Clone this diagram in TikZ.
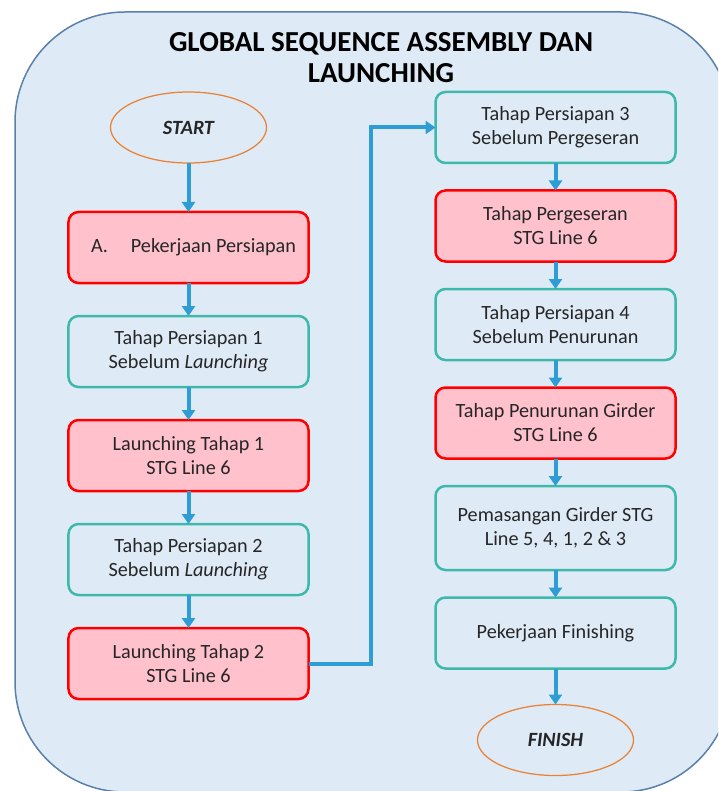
\documentclass[tikz,border=0pt]{standalone}
\usepackage{fontspec}
\setmainfont{Carlito}
\usetikzlibrary{positioning, arrows.meta, shapes.geometric}
\definecolor{bgfill}{HTML}{DEEBF7}
\definecolor{bgline}{HTML}{5A80AC}
\definecolor{tealline}{HTML}{3DB8AA}
\definecolor{redline}{HTML}{FF0000}
\definecolor{pinkfill}{HTML}{FFC1CB}
\definecolor{flowblue}{HTML}{2E9DD6}
\definecolor{ovalline}{HTML}{E98234}

\begin{document}
\begin{tikzpicture}[x=0.2mm, y=-0.2mm,
    every node/.style={font=\fontsize{11.5}{13.6}\selectfont, text=black!85},
    box/.style={rectangle, rounded corners=2mm, draw=tealline, line width=0.5mm, outer sep=0pt,
        minimum width=48mm, minimum height=14.2mm, align=center, inner sep=1mm},
    redbox/.style={box, draw=redline, fill=pinkfill},
    oval/.style={ellipse, draw=ovalline, line width=0.25mm, outer sep=0pt, minimum width=31.2mm,
        minimum height=14.2mm, font=\fontsize{11.5}{13.6}\selectfont\bfseries\itshape},
    flow/.style={draw=flowblue, line width=0.8mm, -{Triangle[length=2mm, width=2.6mm]}}]
\clip (0,0) rectangle (718,791);
\useasboundingbox (0,0) rectangle (718,791);
\draw[fill=bgfill, draw=bgline, line width=0.3mm, rounded corners=22mm] (15,12) rectangle (731,792);
\node[font=\fontsize{16.5}{17.6}\selectfont\bfseries, text=black, align=center] (title) at (381,57.5)
    {GLOBAL SEQUENCE ASSEMBLY DAN\\LAUNCHING};

\node[oval] (s0) at (188.5,127.5) {START};
\node[redbox, below=9.8mm of s0] (l1) {\hspace*{2mm}A.\hspace{4.6mm}Pekerjaan Persiapan};
\node[box, below=6.6mm of l1] (l2) {Tahap Persiapan 1\\Sebelum \textit{Launching}};
\node[redbox, below=6.6mm of l2] (l3) {Launching Tahap 1\\STG Line 6};
\node[box, below=6.6mm of l3] (l4) {Tahap Persiapan 2\\Sebelum \textit{Launching}};
\node[redbox, below=6.6mm of l4] (l5) {Launching Tahap 2\\STG Line 6};

\node[box] (r1) at (555.5,127.5) {Tahap Persiapan 3\\Sebelum Pergeseran};
\node[redbox, below=5.5mm of r1] (r2) {Tahap Pergeseran\\STG Line 6};
\node[box, below=5.5mm of r2] (r3) {Tahap Persiapan 4\\Sebelum Penurunan};
\node[redbox, below=5.5mm of r3] (r4) {Tahap Penurunan Girder\\STG Line 6};
\node[box, minimum height=16.8mm, below=5.5mm of r4] (r5) {Pemasangan Girder STG\\Line 5, 4, 1, 2 \& 3};
\node[box, below=5.5mm of r5] (r6) {Pekerjaan Finishing};
\node[oval, below=7.2mm of r6] (f0) {FINISH};

\draw[flow] (s0) -- (l1);
\draw[flow] (l1) -- (l2);
\draw[flow] (l2) -- (l3);
\draw[flow] (l3) -- (l4);
\draw[flow] (l4) -- (l5);
\draw[flow] (l5.east) -- ++(12.5mm,0) |- (r1.west);
\draw[flow] (r1) -- (r2);
\draw[flow] (r2) -- (r3);
\draw[flow] (r3) -- (r4);
\draw[flow] (r4) -- (r5);
\draw[flow] (r5) -- (r6);
\draw[flow] (r6) -- (f0);
\end{tikzpicture}
\end{document}
